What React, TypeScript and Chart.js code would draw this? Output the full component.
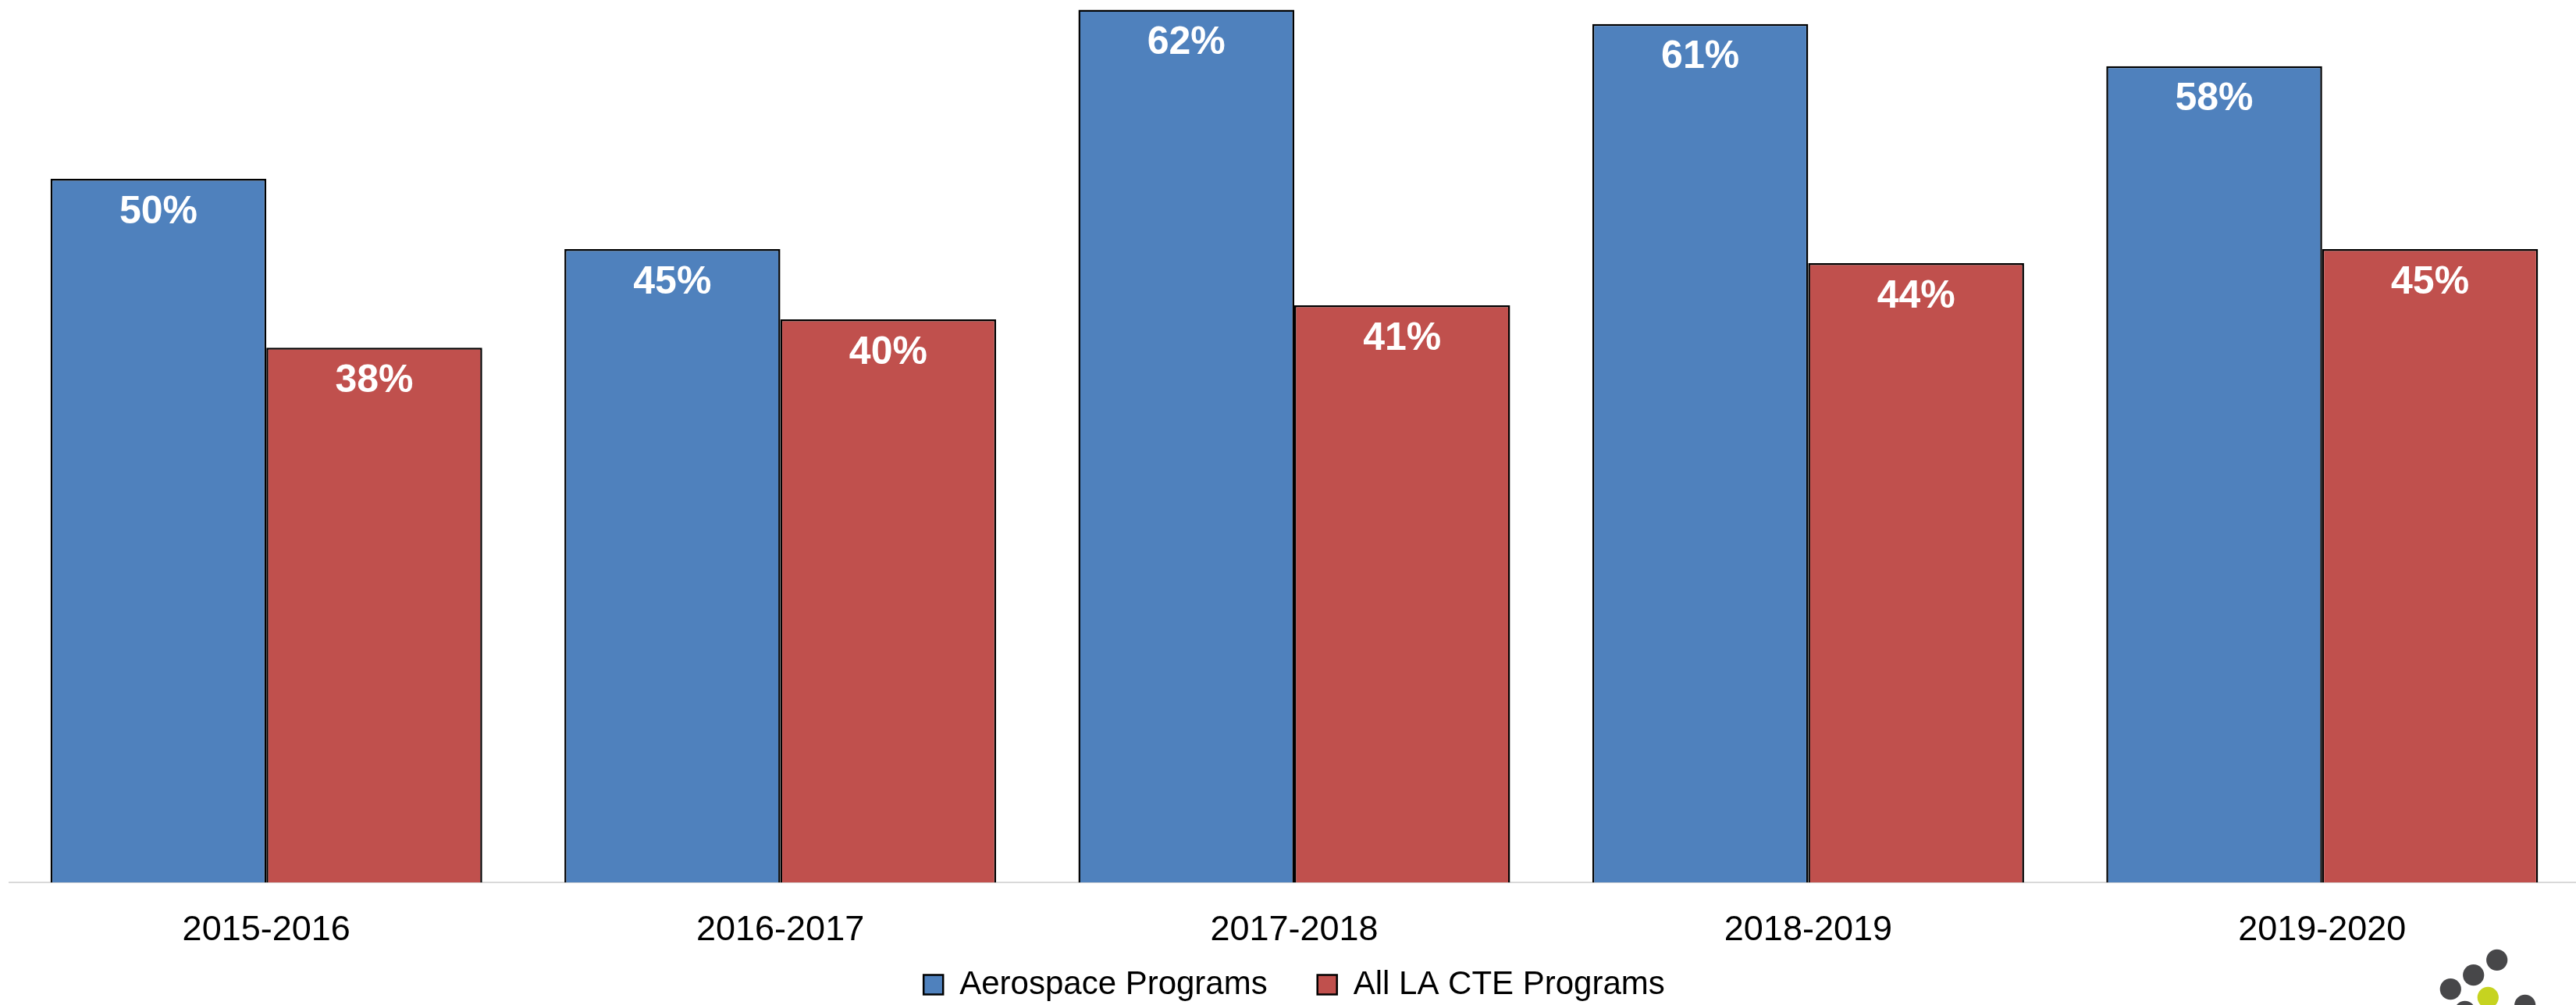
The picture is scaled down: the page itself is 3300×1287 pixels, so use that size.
import React, { useEffect, useRef } from "react";
import { Chart, registerables } from "chart.js";

Chart.register(...registerables);

const categories = ["2015-2016", "2016-2017", "2017-2018", "2018-2019", "2019-2020"];
const aerospaceValues = [50, 45, 62, 61, 58];
const allCteValues = [38, 40, 41, 44, 45];
const seriesNames = ["Aerospace Programs", "All LA CTE Programs"];
const yMax = 62.7;

const FONT = '"Liberation Sans", Arial, sans-serif';

const valueLabels = {
  id: "valueLabels",
  afterDatasetsDraw(chart: any) {
    const { ctx } = chart;
    ctx.save();
    ctx.font = `bold 50px ${FONT}`;
    ctx.fillStyle = "#ffffff";
    ctx.textAlign = "center";
    ctx.textBaseline = "middle";
    chart.data.datasets.forEach((ds: any, i: number) => {
      chart.getDatasetMeta(i).data.forEach((bar: any, j: number) => {
        ctx.fillText(`${ds.data[j]}%`, bar.x, bar.y + 43);
      });
    });
    ctx.restore();
  },
};

// let the x tick labels draw below the (shortened) axis box without clipping
const unclipAxis = {
  id: "unclipAxis",
  afterLayout(chart: any) {
    const x = chart.scales.x;
    if (x) x.bottom = chart.height;
  },
};

// decorative logo dots in the bottom-right corner
const logoDots = [
  { dx: 0, dy: 0, c: "#474749" },
  { dx: -30, dy: 19.4, c: "#474749" },
  { dx: -59.4, dy: 37.4, c: "#474749" },
  { dx: -11.4, dy: 48, c: "#c6d320" },
  { dx: 36, dy: 58, c: "#474749" },
  { dx: -41, dy: 66, c: "#474749" },
];
const logoPlugin = {
  id: "logo",
  afterDraw(chart: any) {
    const { ctx, chartArea } = chart;
    const ox = chartArea.right - 105.3;
    const oy = chartArea.bottom + 99.3;
    ctx.save();
    logoDots.forEach((d) => {
      ctx.beginPath();
      ctx.arc(ox + d.dx, oy + d.dy, 13.6, 0, Math.PI * 2);
      ctx.fillStyle = d.c;
      ctx.fill();
    });
    ctx.restore();
  },
};

export default function App() {
  const ref = useRef<HTMLCanvasElement | null>(null);

  useEffect(() => {
    if (!ref.current) return;
    const chart = new Chart(ref.current, {
      type: "bar",
      data: {
        labels: categories,
        datasets: [
          {
            label: seriesNames[0],
            data: aerospaceValues,
            backgroundColor: "#4F81BD",
            borderColor: "#000000",
            borderWidth: 2.5,
            categoryPercentage: 0.84,
            barPercentage: 1,
          },
          {
            label: seriesNames[1],
            data: allCteValues,
            backgroundColor: "#C0504D",
            borderColor: "#000000",
            borderWidth: 2.5,
            categoryPercentage: 0.84,
            barPercentage: 1,
          },
        ],
      },
      options: {
        responsive: false,
        animation: false,
        devicePixelRatio: 1,
        layout: { padding: { left: 12, right: 0, top: 0, bottom: 0 } },
        plugins: {
          tooltip: { enabled: false },
          legend: {
            display: true,
            position: "bottom",
            labels: {
              boxWidth: 25,
              boxHeight: 25,
              padding: 64,
              color: "#000000",
              font: { family: FONT, size: 42 },
            },
          },
        },
        scales: {
          x: {
            grid: { display: false },
            border: { display: true, color: "#d9d9d9", width: 2 },
            ticks: {
              color: "#000000",
              font: { family: FONT, size: 45 },
              padding: 27,
              maxRotation: 0,
              autoSkip: false,
            },
            afterFit: (scale: any) => {
              scale.height = 46;
            },
          },
          y: {
            display: false,
            min: 0,
            max: yMax,
          },
        },
      },
      plugins: [unclipAxis, valueLabels, logoPlugin],
    });
    return () => chart.destroy();
  }, []);

  return (
    <div
      style={{
        position: "fixed",
        left: 0,
        top: 0,
        width: 3300,
        height: 1287,
        overflow: "hidden",
        background: "#ffffff",
      }}
    >
      <canvas ref={ref} width={3304} height={1292} style={{ display: "block" }} />
    </div>
  );
}
